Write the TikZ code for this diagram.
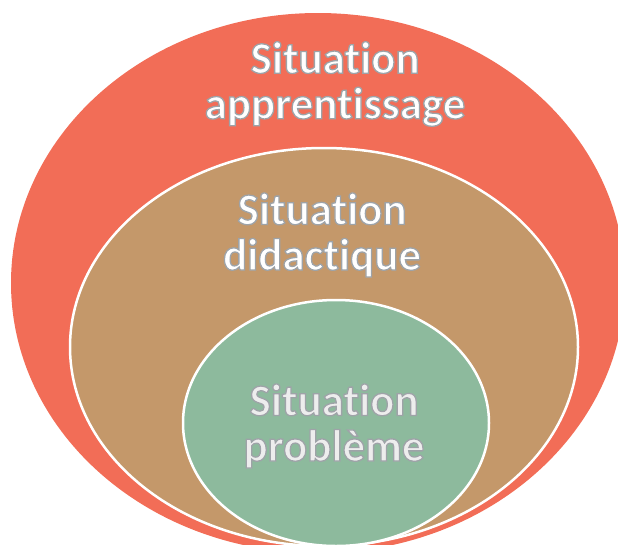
\documentclass[tikz,border=0pt]{standalone}
\usepackage{fontspec}
\setmainfont{Carlito}[Ligatures={NoCommon,NoContextual}]
\usetikzlibrary{shapes.geometric, positioning}

\definecolor{apprRed}{HTML}{F26D57}
\definecolor{didaTan}{HTML}{C4986A}
\definecolor{probGreen}{HTML}{8DBA9D}

\newcommand{\rim}[1]{\special{pdf:literal direct 2 Tr 1.3 w 0.62 0.64 0.66 RG}#1\special{pdf:literal direct 0 Tr}}

\tikzset{
    zone/.style={ellipse, inner sep=0pt, line width=2.5pt, draw=white},
    label/.style={text=white, align=center, inner sep=0pt,
                  font=\bfseries\fontsize{45}{45.5}\selectfont}
}

\begin{document}
\begin{tikzpicture}[x=1pt, y=-1pt]
    \useasboundingbox (0,0) rectangle (618,544);
    \clip (0,0) rectangle (618,544);
    \node[zone,
          draw=none,
          fill=apprRed,
          minimum width=614pt,
          minimum height=540pt] (A) at (318,283) {};
    \node[zone,
          fill=didaTan,
          minimum width=508pt,
          minimum height=398pt] (D) at (324,347) {};
    \node[zone,
          fill=probGreen,
          minimum width=306pt,
          minimum height=246pt] (P) at (336,423) {};
    \node[label] (a) at (335,84) {\rim{Situation}\\\rim{apprentissage}};
    \node[label] (d) at (322,235) {\rim{Situation}\\\rim{didactique}};
    \node[label, text=white!93!black] (p) at (334,426) {\rim{Situation}\\\rim{problème}};
\end{tikzpicture}
\end{document}
